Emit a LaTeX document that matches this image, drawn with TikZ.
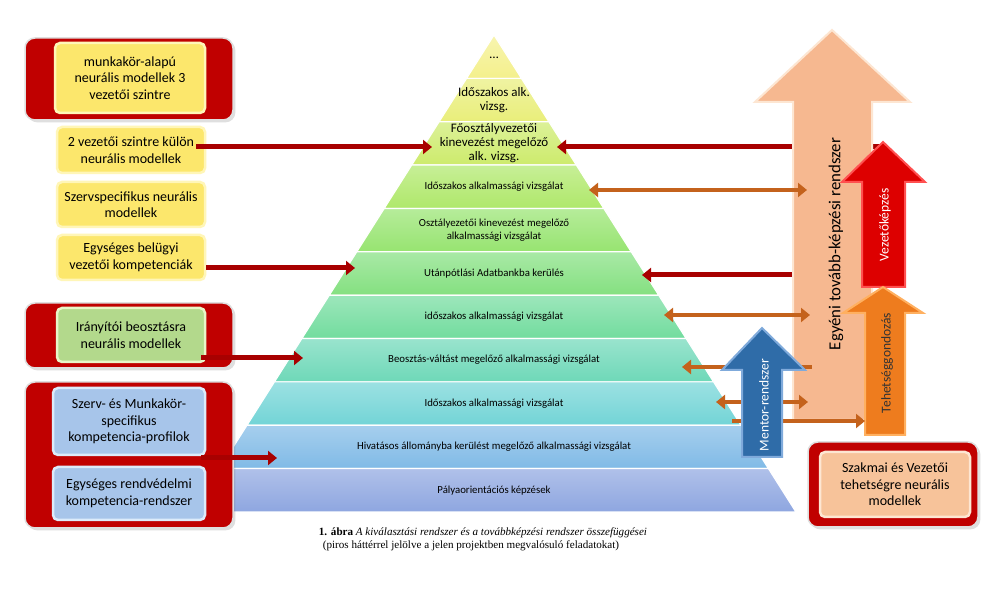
\documentclass[tikz,border=0pt]{standalone}
\usepackage{fontspec}
\setmainfont{Carlito}
\newfontfamily\capfont{Liberation Serif}
\usetikzlibrary{arrows.meta,shadows}
\definecolor{panelred}{HTML}{C00000}
\definecolor{yellowbox}{HTML}{FCE76C}
\definecolor{yellowedge}{HTML}{FFF6B8}
\definecolor{greenbox}{HTML}{B3D98C}
\definecolor{greenedge}{HTML}{E8F5C8}
\definecolor{bluebox}{HTML}{A7C5EA}
\definecolor{blueedge}{HTML}{DCEBFA}
\definecolor{peachbox}{HTML}{F7C39A}
\definecolor{peachboxedge}{HTML}{FDE6D2}
\definecolor{conred}{HTML}{A80000}
\definecolor{conorange}{HTML}{C4621C}
\definecolor{peach}{HTML}{F6B890}
\definecolor{peachedge}{HTML}{FDE6D2}
\definecolor{vezred}{HTML}{DD0000}
\definecolor{vezedge}{HTML}{FF5050}
\definecolor{tehorange}{HTML}{EE7C1E}
\definecolor{tehedge}{HTML}{FFB060}
\definecolor{mentorblue}{HTML}{2F6CA8}
\definecolor{mentoredge}{HTML}{7FAADB}
\definecolor{lv0}{HTML}{F4F08C}
\definecolor{lv1}{HTML}{E9EE7A}
\definecolor{lv2}{HTML}{CDEB6C}
\definecolor{lv3}{HTML}{AFE86A}
\definecolor{lv4}{HTML}{97E470}
\definecolor{lv5}{HTML}{84E080}
\definecolor{lv6}{HTML}{72DC9E}
\definecolor{lv7}{HTML}{6ED8B8}
\definecolor{lv8}{HTML}{72D4D6}
\definecolor{lv9}{HTML}{80BAE6}
\definecolor{lv10}{HTML}{8EA6E0}
\tikzset{
  panel/.style={fill=panelred, draw=gray!25, line width=1.5pt, rounded corners=10pt, drop shadow={opacity=0.25}},
  inbox/.style={line width=2.5pt, rounded corners=5pt, align=center, font=\fontsize{14}{16.5}\selectfont, inner sep=1pt},
  ybox/.style={inbox, fill=yellowbox, draw=yellowedge},
  gbox/.style={inbox, fill=greenbox, draw=greenedge},
  bbox/.style={inbox, fill=bluebox, draw=blueedge},
  pbox/.style={inbox, fill=peachbox, draw=peachboxedge},
  lvtext/.style={align=center, font=\fontsize{10.8}{13.5}\selectfont, text=black},
  lvbig/.style={align=center, font=\fontsize{13}{13.8}\selectfont, text=black},
  redcon/.style={draw=conred, line width=5pt, -{Triangle[length=9pt,width=14pt]}},
  orcon/.style={draw=conorange, line width=4.5pt, {Triangle[length=9pt,width=14pt]}-{Triangle[length=9pt,width=14pt]}},
  orconr/.style={draw=conorange, line width=4.5pt, -{Triangle[length=9pt,width=14pt]}},
  blockarrow/.style={line width=2pt, line join=miter},
  arrtext/.style={rotate=90, font=\fontsize{13.5}{15}\selectfont}
}
\begin{document}
\begin{tikzpicture}[x=1pt,y=-1pt]
\useasboundingbox (0,0) rectangle (989,593);
\fill[white] (0,0) rectangle (989,593);

% pyramid
\foreach \i/\c in {0/lv0,1/lv1,2/lv2,3/lv3,4/lv4,5/lv5,6/lv6,7/lv7,8/lv8,9/lv9,10/lv10}{
  \pgfmathsetmacro\ta{35+43.36*\i}
  \pgfmathsetmacro\tb{35+43.36*(\i+1)}
  \pgfmathsetmacro\wa{0.633*(\ta-35)}
  \pgfmathsetmacro\wb{0.633*(\tb-35)}
  \shade[top color=\c!70!white, bottom color=\c, draw=white, line width=1.2pt]
    (494-\wa,\ta) -- (494+\wa,\ta) -- (494+\wb,\tb) -- (494-\wb,\tb) -- cycle;
}
\node[lvbig] (L0) at (494,58) {\ldots};
\node[lvbig] (L1) at (494,100) {Időszakos alk.\\vizsg.};
\node[lvbig] (L2) at (494,143.4) {Főosztályvezetői\\kinevezést megelőző\\alk. vizsg.};
\node[lvtext] (L3) at (494,186.8) {Időszakos alkalmassági vizsgálat};
\node[lvtext] (L4) at (494,230) {Osztályezetői kinevezést megelőző\\alkalmassági vizsgálat};
\node[lvtext] (L5) at (494,273.5) {Utánpótlási Adatbankba kerülés};
\node[lvtext] (L6) at (494,316.9) {időszakos alkalmassági vizsgálat};
\node[lvtext] (L7) at (494,360) {Beosztás-váltást megelőző alkalmassági vizsgálat};
\node[lvtext] (L8) at (494,403.6) {Időszakos alkalmassági vizsgálat};
\node[lvtext] (L9) at (494,447) {Hivatásos állományba kerülést megelőző alkalmassági vizsgálat};
\node[lvtext] (L10) at (494,490.4) {Pályaorientációs képzések};

% pyramid connector end points
\coordinate (P2l) at (432,147);
\coordinate (P5l) at (355,268);
\coordinate (P7l) at (303,358);
\coordinate (P9l) at (277,458);
\coordinate (P2r) at (557,147);
\coordinate (P3r) at (589,190);
\coordinate (P5r) at (642,275);
\coordinate (P6r) at (664,315);
\coordinate (P7r) at (682,367);
\coordinate (P8r) at (716,402);
\coordinate (P8s) at (732,421);

% left panels
\node[panel, minimum width=208pt, minimum height=82pt] (PA) at (129,79) {};
\node[ybox, minimum width=150pt, minimum height=70pt] (a) at (130,78) {munkakör-alapú\\neurális modellek 3\\vezetői szintre};
\node[ybox, minimum width=148pt, minimum height=46pt] (b) at (131,150) {2 vezetői szintre külön\\neurális modellek};
\node[ybox, minimum width=148pt, minimum height=45pt] (c) at (131,204.5) {Szervspecifikus neurális\\modellek};
\node[ybox, minimum width=148pt, minimum height=45pt] (d) at (131,257.5) {Egységes belügyi\\vezetői kompetenciák};
\node[panel, minimum width=208pt, minimum height=65pt] (PB) at (129,335.5) {};
\node[gbox, minimum width=148pt, minimum height=54pt] (e) at (131,335) {Irányítói beosztásra\\neurális modellek};
\node[panel, minimum width=208pt, minimum height=146pt] (PC) at (129,455) {};
\node[bbox, minimum width=152pt, minimum height=67pt] (f) at (129,421.5) {Szerv- és Munkakör-\\specifikus\\kompetencia-profilok};
\node[bbox, minimum width=152pt, minimum height=53pt] (g) at (129,493.5) {Egységes rendvédelmi\\kompetencia-rendszer};

% left connectors
\draw[redcon] ([xshift=-10pt]b.east |- P2l) -- (P2l);
\draw[redcon] (d.east |- P5l) -- (P5l);
\draw[redcon] ([xshift=-5pt]e.east |- P7l) -- (P7l);
\draw[redcon] ([xshift=-5pt]f.east |- P9l) -- (P9l);

% right connectors behind big arrows
\coordinate (R1) at (880,147);
\coordinate (R2) at (868,275);
\coordinate (O7) at (812,367);
\coordinate (O8) at (808,402);
\draw[redcon] (R1) -- (P2r);
\draw[redcon] (R2) -- (P5r);

% peach arrow
\draw[blockarrow, fill=peach, draw=peachedge] (793,420) -- (793,102) -- (755,102) -- (832,30) -- (910,102) -- (872,102) -- (872,420) -- cycle;
\node[rotate=90, font=\fontsize{16.8}{19}\selectfont, text=black] (peachT) at (836,244) {Egyéni tovább-képzési rendszer};

\coordinate (O3) at (807,190);
\coordinate (O6) at (810,315);
\draw[orcon] (P3r) -- (O3);
\draw[orcon] (P6r) -- (O6);
\draw[draw=conorange, line width=4.5pt, {Triangle[length=9pt,width=14pt]}-] (P7r) -- (O7);
\draw[orcon] (P8r) -- (O8);

% Vezetőképzés arrow
\draw[blockarrow, fill=vezred, draw=vezedge] (862,287) -- (862,182) -- (842,182) -- (883,142) -- (925,182) -- (905,182) -- (905,287) -- cycle;
\node[arrtext, text=white] (vezT) at (885,225) {Vezetőképzés};

% Tehetséggondozás arrow
\draw[blockarrow, fill=tehorange, draw=tehedge] (865,435) -- (865,313) -- (843,313) -- (883,287) -- (923,313) -- (905,313) -- (905,435) -- cycle;
\coordinate (T1) at (865,421);
\draw[orconr] (P8s) -- (T1);
\node[arrtext, text=black!80] (tehT) at (887,363) {Tehetséggondozás};

% Mentor arrow
\draw[blockarrow, fill=mentorblue, draw=mentoredge] (742,457) -- (742,370) -- (722,370) -- (762,328) -- (805,370) -- (782,370) -- (782,457) -- cycle;
\node[arrtext, text=white] (mentT) at (764,405) {Mentor-rendszer};

% right panel
\node[panel, minimum width=170pt, minimum height=85pt] (PD) at (893,484.5) {};
\node[pbox, minimum width=150pt, minimum height=65pt] (h) at (895,484.5) {Szakmai és Vezetői\\tehetségre neurális\\modellek};

% caption
\node[font=\capfont\fontsize{11.1}{13}\selectfont] (cap1) at (483,533) {\textbf{1. ábra} \textit{A kiválasztási rendszer és a továbbképzési rendszer összefüggései}};
\node[font=\capfont\fontsize{11.1}{13}\selectfont] (cap2) at (471,546) {(piros háttérrel jelölve a jelen projektben megvalósuló feladatokat)};
\end{tikzpicture}
\end{document}
